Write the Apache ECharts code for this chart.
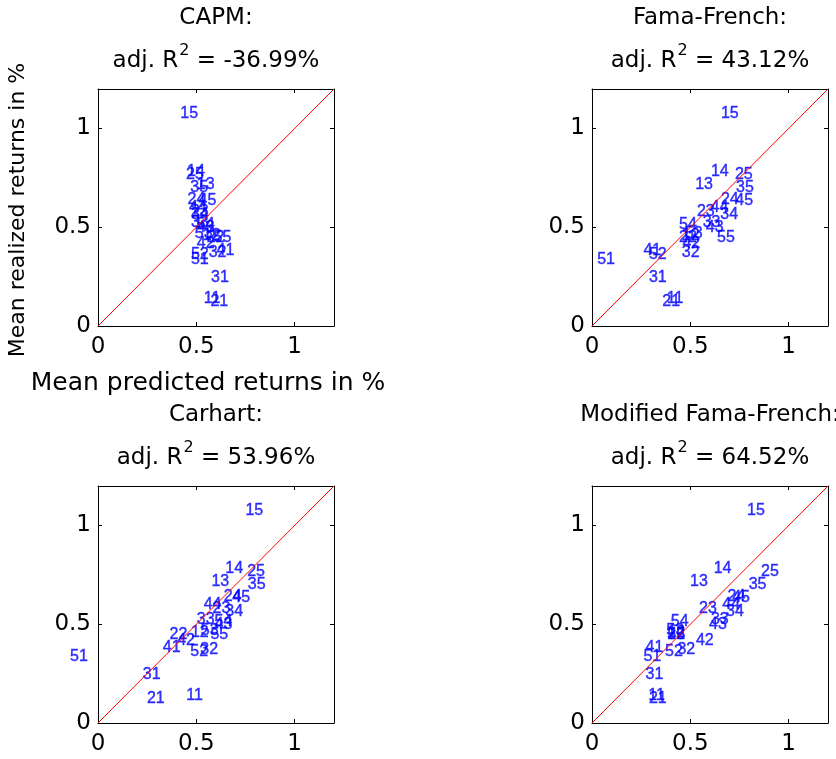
<!DOCTYPE html>
<html>
<head>
<meta charset="utf-8">
<script src="https://cdn.jsdelivr.net/npm/echarts@6/dist/echarts.min.js"></script>
<style>
html,body{margin:0;padding:0;background:#fff;}
#chart{width:836px;height:759px;}
</style>
</head>
<body>
<div id="chart"></div>
<script>
// Portfolio labels (size quintile x book-to-market quintile)
const portfolios = ['11','12','13','14','15','21','22','23','24','25','31','32','33','34','35','41','42','43','44','45','51','52','53','54','55'];
// Mean realized returns in % (same in all panels)
const realized = [0.140,0.460,0.718,0.780,1.078, 0.122,0.447,0.580,0.640,0.765, 0.245,0.374,0.523,0.566,0.700, 0.383,0.415,0.500,0.600,0.636, 0.335,0.363,0.470,0.515,0.448];
// Mean predicted returns in % per model
const predCAPM = [0.535,0.530,0.500,0.450,0.416, 0.569,0.550,0.470,0.453,0.445, 0.572,0.560,0.470,0.470,0.467, 0.600,0.500,0.500,0.460,0.509, 0.470,0.470,0.490,0.500,0.585];
const predFF   = [0.378,0.454,0.522,0.602,0.653, 0.355,0.440,0.531,0.653,0.724, 0.287,0.454,0.560,0.650,0.730, 0.259,0.457,0.576,0.600,0.726, 0.024,0.287,0.470,0.440,0.633];
const predCarhart = [0.446,0.470,0.574,0.645,0.747, 0.246,0.361,0.580,0.637,0.756, 0.225,0.518,0.500,0.645,0.759, 0.327,0.400,0.590,0.535,0.680, -0.145,0.467,0.520,0.590,0.569];
const predMFF  = [0.284,0.380,0.496,0.616,0.786, 0.287,0.380,0.542,0.687,0.857, 0.270,0.432,0.602,0.679,0.794, 0.270,0.526,0.593,0.660,0.710, 0.259,0.369,0.375,0.398,0.380];
// Panel titles and adjusted R^2 texts
const modelNames = ['CAPM:','Fama-French:','Carhart:','Modified Fama-French:'];
const adjR2 = ['-36.99%','43.12%','53.96%','64.52%'];
// 45-degree reference line end points and axis range
const diagonal = [0, 1.2];
const axisMin = 0, axisMax = 1.2, tickStep = 0.5;

const preds = [predCAPM, predFF, predCarhart, predMFF];
const gridPos = [
  {left:98, top:89},
  {left:592, top:89},
  {left:98, top:486},
  {left:592, top:486}
];
const W = 236, H = 237;
const tickFont = 'DejaVu Sans';

const grids = [], xAxes = [], yAxes = [], series = [], graphics = [];
gridPos.forEach((p, g) => {
  grids.push({left:p.left, top:p.top, width:W, height:H, containLabel:false});
  const base = {
    gridIndex:g, type:'value', min:axisMin, max:axisMax, interval:tickStep,
    axisLine:{show:true, onZero:false, lineStyle:{color:'#000', width:1}},
    axisTick:{show:true, inside:true, length:4, lineStyle:{color:'#000', width:1}},
    splitLine:{show:false}
  };
  xAxes.push(Object.assign({}, base, {position:'bottom',
    axisLabel:{show:true, color:'#000', fontSize:23, fontFamily:tickFont, margin:10, showMaxLabel:false}}));
  xAxes.push(Object.assign({}, base, {position:'top', axisLabel:{show:false}}));
  yAxes.push(Object.assign({}, base, {position:'left',
    axisLabel:{show:true, color:'#000', fontSize:23, fontFamily:tickFont, margin:7, showMaxLabel:false}}));
  yAxes.push(Object.assign({}, base, {position:'right', axisLabel:{show:false}}));

  series.push({
    type:'scatter', xAxisIndex:2*g, yAxisIndex:2*g, clip:false, silent:true,
    symbolSize:1, itemStyle:{color:'rgba(0,0,0,0)'},
    data: preds[g].map((x,i) => [x, realized[i], portfolios[i]]),
    label:{show:true, position:'right', distance:0, formatter:(q)=>q.value[2],
      color:'#0000ff', fontSize:16, fontFamily:'Liberation Sans, Arial',
      textBorderColor:'#0000ff', textBorderWidth:0.4},
    labelLayout:{hideOverlap:false},
    markLine:{
      silent:true, symbol:['none','none'], label:{show:false},
      lineStyle:{color:'#ff0000', width:1, type:'solid'},
      emphasis:{disabled:true},
      data:[[{coord:[diagonal[0], diagonal[0]]}, {coord:[diagonal[1], diagonal[1]]}]]
    },
    z:3
  });

  const cx = p.left + W/2;
  graphics.push({type:'text', x:cx, y:p.top - 71, style:{text:modelNames[g], fill:'#000',
    font:'23px "DejaVu Sans"', align:'center', verticalAlign:'middle'}});
  graphics.push({type:'text', x:cx, y:p.top - 31, style:{
    text:'{a|adj. R}{s|2}{a| = ' + adjR2[g] + '}',
    align:'center', verticalAlign:'middle',
    rich:{
      a:{fontSize:23, fontFamily:'DejaVu Sans', fill:'#000', lineHeight:30, verticalAlign:'bottom'},
      s:{fontSize:16, fontFamily:'DejaVu Sans', fill:'#000', lineHeight:30, verticalAlign:'top', padding:[0,0,0,1]}
    }}});
});

graphics.push({type:'text', x:208, y:383, style:{text:'Mean predicted returns in %', fill:'#000',
  font:'25px "DejaVu Sans"', align:'center', verticalAlign:'middle'}});
graphics.push({type:'text', x:18, y:210, rotation:Math.PI/2, style:{text:'Mean realized returns in %', fill:'#000',
  font:'22px "DejaVu Sans"', align:'center', verticalAlign:'middle'}});

const chart = echarts.init(document.getElementById('chart'), null, {renderer:'canvas'});
chart.setOption({
  backgroundColor:'#fff',
  animation:false,
  grid:grids, xAxis:xAxes, yAxis:yAxes, series:series, graphic:graphics
});
</script>
</body>
</html>
